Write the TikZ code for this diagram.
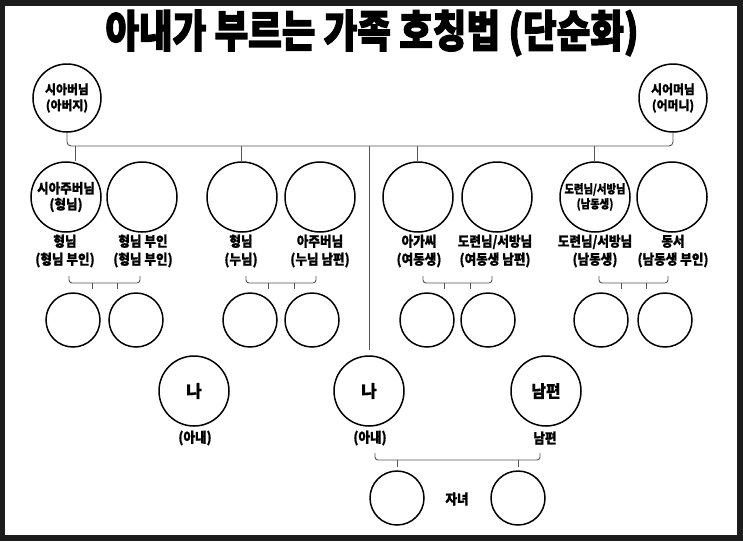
\documentclass[tikz,border=0pt]{standalone}
\usepackage{fontspec}
\usepackage{graphicx}
\setmainfont{Noto Sans CJK KR}[BoldFeatures={FakeBold=1.0}]
\newfontfamily\titlefont{Noto Sans CJK KR}[BoldFeatures={FakeBold=3}]
\newcommand\sq[2][0.9]{\scalebox{#1}[1]{#2}}
\definecolor{framec}{HTML}{1C1C1C}
\definecolor{connc}{HTML}{555555}
\begin{document}
\begin{tikzpicture}[x=1pt,y=-1pt,
  circ/.style={circle, draw=black, line width=1.5pt, minimum size=70pt, inner sep=0pt, align=center, font=\bfseries\fontsize{13.5}{16}\selectfont},
  smallc/.style={circle, draw=black, line width=1.5pt, minimum size=54pt, inner sep=0pt},
  lbl/.style={align=center, inner sep=0pt, font=\bfseries\fontsize{14}{18}\selectfont},
  conn/.style={draw=connc, line width=0.9pt},
  brk/.style={conn, rounded corners=3pt}]
\fill[framec] (0,0) rectangle (743,541);
\fill[white] (5,6) rectangle (737,535);
\useasboundingbox (0,0) rectangle (743,541);

% title
\node[font=\titlefont\bfseries\fontsize{44}{44}\selectfont, inner sep=0pt] (title) at (372,33) {\sq[0.83]{아내가 부르는 가족 호칭법 (단순화)}};

% top parents
\node[circ, minimum size=68pt, font=\bfseries\fontsize{12.5}{16}\selectfont] (fa) at (67,98) {\sq[0.95]{시아버님}\\\sq[0.95]{(아버지)}};
\node[circ, minimum size=68pt, font=\bfseries\fontsize{12.5}{16}\selectfont] (mo) at (673,98) {\sq[0.95]{시어머님}\\\sq[0.95]{(어머니)}};

% second row circles
\node[circ] (c1) at (66,197) {\sq[0.93]{시아주버님}\\\sq[0.93]{(형님)}};
\node[circ] (c2) at (142,197) {};
\node[circ] (c3) at (242,197) {};
\node[circ] (c4) at (320,197) {};
\node[circ] (c5) at (418,197) {};
\node[circ] (c6) at (497,197) {};
\node[circ, font=\bfseries\fontsize{12}{15}\selectfont] (c7) at (595,197) {\sq[0.86]{도련님/서방님}\\\sq[0.86]{(남동생)}};
\node[circ] (c8) at (672,197) {};

% labels
\node[lbl] (l1) at (65,251) {\sq{형님}\\\sq{(형님 부인)}};
\node[lbl] (l2) at (143,251) {\sq{형님 부인}\\\sq{(형님 부인)}};
\node[lbl] (l3) at (241,251) {\sq{형님}\\\sq{(누님)}};
\node[lbl] (l4) at (320,251) {\sq{아주버님}\\\sq{(누님 남편)}};
\node[lbl] (l5) at (419,251) {\sq{아가씨}\\\sq{(여동생)}};
\node[lbl] (l6) at (495,251) {\sq{도련님/서방님}\\\sq{(여동생 남편)}};
\node[lbl] (l7) at (595,251) {\sq{도련님/서방님}\\\sq{(남동생)}};
\node[lbl] (l8) at (673,251) {\sq{동서}\\\sq{(남동생 부인)}};

% small circles (children of siblings)
\node[smallc] (s1) at (73,320) {};
\node[smallc] (s2) at (136,320) {};
\node[smallc] (s3) at (250,320) {};
\node[smallc] (s4) at (312,320) {};
\node[smallc] (s5) at (427,320) {};
\node[smallc] (s6) at (488,320) {};
\node[smallc] (s7) at (601,320) {};
\node[smallc] (s8) at (665,320) {};

% bottom row
\node[circ, font=\bfseries\fontsize{17}{18}\selectfont] (me1) at (194,391) {나};
\node[circ, font=\bfseries\fontsize{17}{18}\selectfont] (me2) at (369,391) {나};
\node[circ, font=\bfseries\fontsize{17}{18}\selectfont] (hu) at (546,391) {\sq[0.93]{남편}};
\node[lbl] (lm1) at (195,438) {\sq{(아내)}};
\node[lbl] (lm2) at (370,438) {\sq{(아내)}};
\node[lbl] (lhu) at (545,438) {\sq{남편}};
\node[smallc] (k1) at (397,498) {};
\node[smallc] (k2) at (518,498) {};
\node[lbl] (kl) at (457,499) {\sq{자녀}};

% main connector between parents
\draw[conn, rounded corners=4pt] (fa.south) -- (fa.south |- 0,146) -- (mo.south |- 0,146) -- (mo.south);
\coordinate (t1) at (75,146);
\coordinate (t3) at (241,146);
\coordinate (tm) at (369,146);
\coordinate (t5) at (417,146);
\coordinate (t7) at (594,146);
\coordinate (tmend) at (369,350);
\draw[conn] (t1) -- (t1 |- c1.north);
\draw[conn] (t3) -- (t3 |- c3.north);
\draw[conn] (t5) -- (t5 |- c5.north);
\draw[conn] (t7) -- (t7 |- c7.north);
\draw[conn] (tm) -- (tmend);

% brackets for nephews/nieces
\foreach \a/\b/\p/\q [count=\i] in {69/140/92/117, 246/316/268/294, 423/492/444/470, 599/668/621/646}{
  \coordinate (bl\i) at (\a,276);
  \coordinate (br\i) at (\b,276);
  \coordinate (tp\i) at (\p,283);
  \coordinate (tq\i) at (\q,283);
  \draw[brk] (bl\i) -- (bl\i |- tp\i) -- (br\i |- tp\i) -- (br\i);
  \draw[conn] (tp\i) -- ++(0,6);
  \draw[conn] (tq\i) -- ++(0,6);
}

% bracket for own children
\coordinate (kbl) at (375,453);
\coordinate (kbr) at (540,453);
\coordinate (kt1) at (397,460);
\coordinate (kt2) at (518,460);
\draw[brk] (kbl) -- (kbl |- kt1) -- (kbr |- kt1) -- (kbr);
\draw[conn] (kt1) -- ++(0,7);
\draw[conn] (kt2) -- ++(0,7);
\end{tikzpicture}
\end{document}
